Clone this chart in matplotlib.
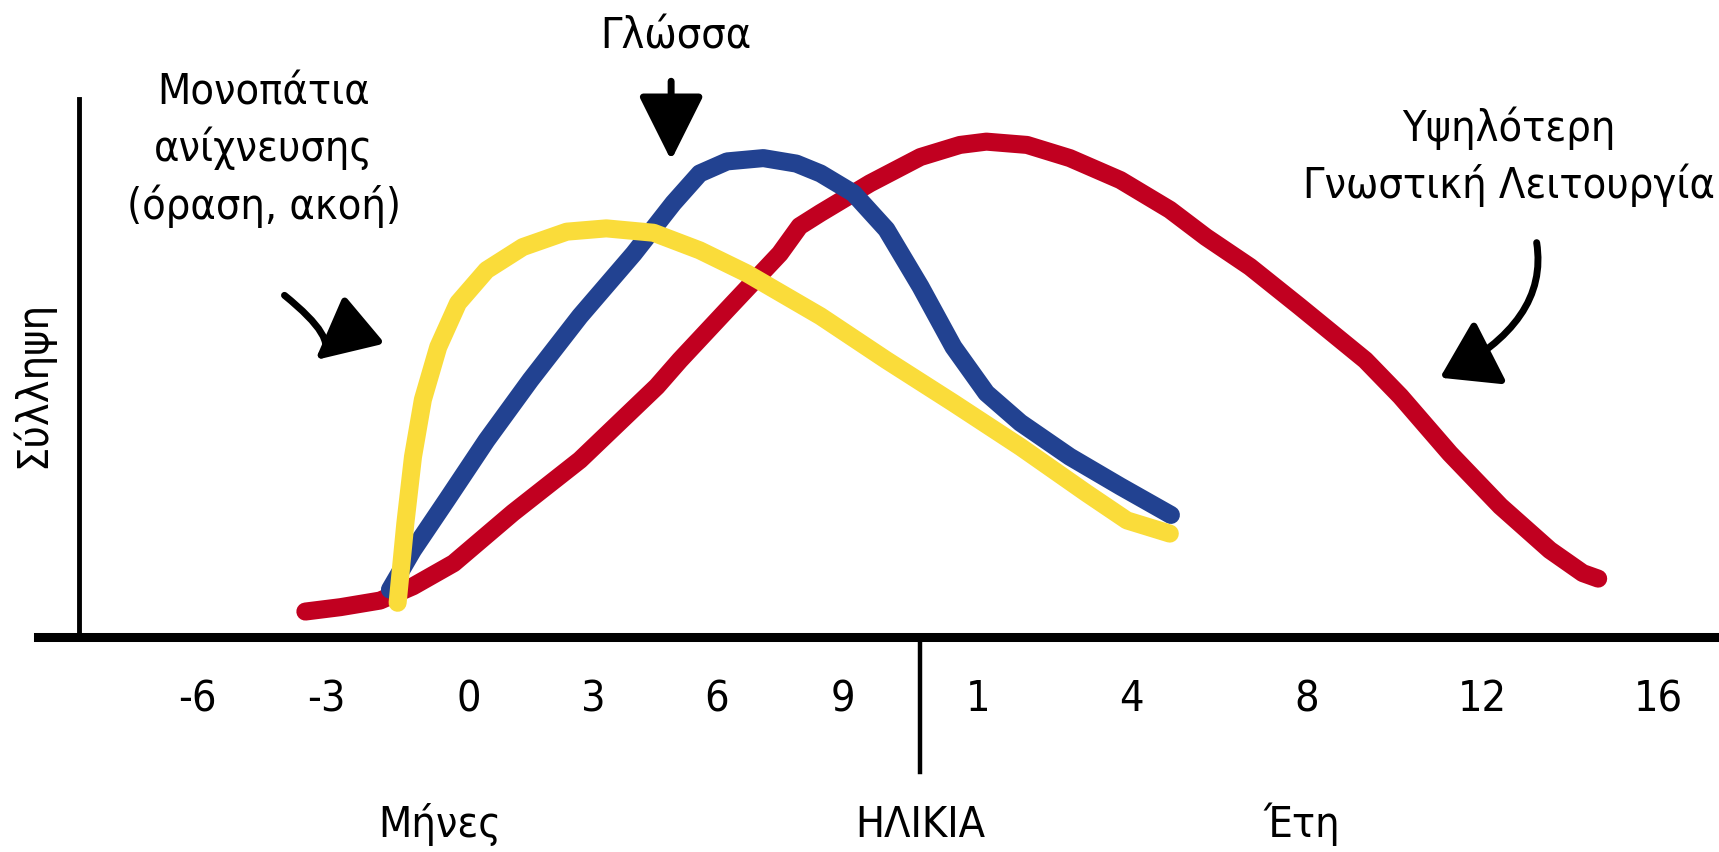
import matplotlib
matplotlib.use('Agg')
import matplotlib.pyplot as plt

plt.rcParams['font.family'] = ['DejaVu Sans']
plt.rcParams['font.stretch'] = 'condensed'

# θέσεις στον άξονα της ηλικίας και επίπεδο "σύλληψης"
tick_pos = [180, 297, 427, 540, 652, 767, 890, 1030, 1190, 1350, 1510]
tick_labels = ['-6', '-3', '0', '3', '6', '9', '1', '4', '8', '12', '16']

# Υψηλότερη Γνωστική Λειτουργία
red_x = [278, 310, 346, 376, 413, 467, 528, 598, 619, 662, 710, 728, 747, 792, 838,
         874, 898, 935, 974, 1020, 1065, 1098, 1138, 1183, 1243, 1275, 1320, 1366,
         1411, 1441, 1455]
red_y = [23, 27, 33, 46, 67, 113, 161, 228, 252, 298, 349, 374, 386, 413, 437,
         448, 451, 448, 436, 416, 389, 364, 337, 301, 252, 219, 167, 119,
         79, 58, 53]

# Γλώσσα
blue_x = [355, 376, 407, 443, 483, 528, 577, 613, 637, 662, 695, 725, 747, 777, 807,
          838, 868, 898, 929, 974, 1020, 1066]
blue_y = [43, 79, 125, 179, 234, 292, 349, 395, 422, 433, 436, 431, 422, 404, 371,
          319, 264, 222, 195, 164, 137, 111]

# Μονοπάτια ανίχνευσης
yellow_x = [362, 369, 376, 385, 399, 417, 443, 476, 516, 552, 595, 637, 680, 747,
            807, 868, 929, 989, 1026, 1065]
yellow_y = [31, 103, 164, 216, 264, 304, 334, 355, 369, 372, 368, 352, 331, 292,
            252, 213, 173, 131, 106, 94]

fig = plt.figure(figsize=(17.19, 8.52), dpi=100)
ax = fig.add_axes([35 / 1565, 196 / 776, 1 - 35 / 1565, 490 / 776])
ax.set_xlim(35, 1565)
ax.set_ylim(0, 490)

for s in ['top', 'right']:
    ax.spines[s].set_visible(False)
ax.spines['bottom'].set_linewidth(6.5)
ax.spines['left'].set_linewidth(3.5)
ax.spines['left'].set_position(('data', 72))
ax.set_yticks([])
ax.set_xticks(tick_pos, tick_labels)
ax.tick_params(axis='x', length=0, pad=30, labelsize=31)

lw = 13
for xs, ys, c in [(red_x, red_y, '#C10020'), (blue_x, blue_y, '#224291'),
                  (yellow_x, yellow_y, '#FADC3A')]:
    ax.plot(xs, ys, color=c, lw=lw, solid_capstyle='round',
            solid_joinstyle='round', clip_on=False)

# κάθετη γραμμή μεταξύ μηνών και ετών
ax.plot([838, 838], [0, -123], color='black', lw=3.2, clip_on=False)

fs = 31
ax.text(400, -171, 'Μήνες', ha='center', va='center', fontsize=fs)
ax.text(838, -171, 'ΗΛΙΚΙΑ', ha='center', va='center', fontsize=fs)
ax.text(1185, -171, 'Έτη', ha='center', va='center', fontsize=fs)
ax.text(30, 230, 'Σύλληψη', ha='center', va='center', rotation=90, fontsize=fs,
        clip_on=False)

ax.text(615, 547, 'Γλώσσα', ha='center', va='center', fontsize=fs, clip_on=False)
ax.text(240, 444, 'Μονοπάτια\nανίχνευσης\n(όραση, ακοή)', ha='center', va='center',
        fontsize=fs, linespacing=1.4, clip_on=False)
ax.text(1374, 437, 'Υψηλότερη\nΓνωστική Λειτουργία', ha='center', va='center',
        fontsize=fs, linespacing=1.4, clip_on=False)

# βέλη
ax.annotate('', xy=(611, 434), xytext=(611, 506),
            arrowprops=dict(arrowstyle='-|>,head_length=2.0,head_width=1.0', lw=5,
                            color='black', mutation_scale=20, shrinkA=0, shrinkB=0),
            annotation_clip=False)
ax.annotate('', xy=(287, 252), xytext=(259, 311),
            arrowprops=dict(arrowstyle='-|>,head_length=1.9,head_width=0.95', lw=5,
                            color='black', mutation_scale=20, shrinkA=0, shrinkB=0,
                            connectionstyle='angle3,angleA=-39,angleB=40'),
            annotation_clip=False)
ax.annotate('', xy=(1311, 236), xytext=(1399, 359),
            arrowprops=dict(arrowstyle='-|>,head_length=1.7,head_width=1.1', lw=5,
                            color='black', mutation_scale=20, shrinkA=0, shrinkB=0,
                            connectionstyle='angle3,angleA=-81,angleB=27'),
            annotation_clip=False)

fig.savefig('out.png', dpi=100)
